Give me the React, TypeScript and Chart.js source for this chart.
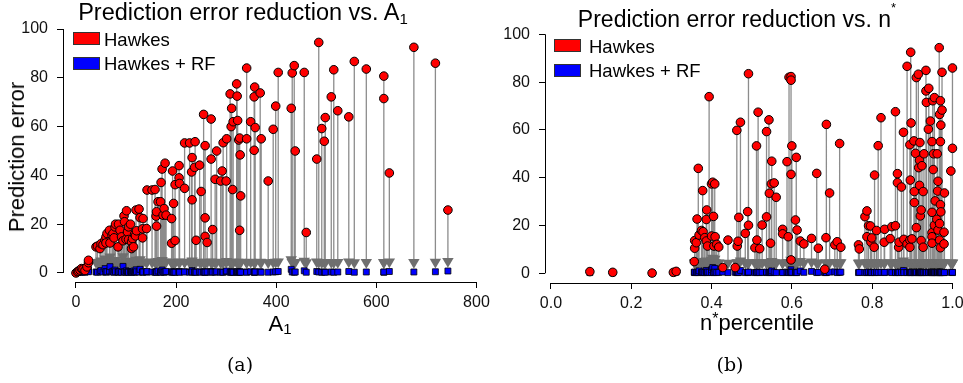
import React, { useEffect, useRef } from "react";
import { Chart, registerables } from "chart.js";

Chart.register(...registerables);

// ---------------- Panel (a): error vs A1 ----------------
const leftA = [
  0, 3, 5, 8, 11, 14, 18, 22, 25, 25,
  40, 43, 48, 50, 54, 58, 60, 60, 62, 67,
  68, 72, 74, 76, 78, 79, 84, 85, 88, 91,
  94, 96, 97, 100, 101, 103, 105, 105, 109, 111,
  111, 113, 115, 117, 119, 120, 121, 126, 128, 133,
  133, 134, 141, 142, 152, 158, 160, 161, 161, 164,
  169, 170, 172, 174, 176, 178, 180, 191, 191, 193,
  195, 198, 198, 206, 206, 207, 217, 217, 227, 231,
  232, 232, 237, 238, 240, 247, 250, 255, 258, 258,
  258, 262, 270, 270, 273, 278, 281, 289, 292, 294,
  300, 301, 308, 310, 311, 313, 314, 321, 322, 323,
  325, 327, 327, 328, 329, 341, 341, 349, 356, 356,
  357, 358, 368, 370, 384, 394, 399, 404, 430, 432,
  436, 438, 456, 460, 481, 485, 491, 496, 498, 510,
  515, 523, 545, 556, 580, 615, 615, 626, 675, 718,
  743,
];
const leftHawkes = [
  0, 0.5, 0.8, 1.2, 1.8, 1.5, 1.0, 2.5, 4.2, 5.2,
  10.7, 11.0, 10.0, 12.0, 11.6, 13.5, 14.8, 12.3, 16.2, 17.5,
  12.3, 15.5, 16.2, 14.4, 18.9, 20.0, 10.7, 20.0, 17.5, 14.8,
  13.2, 23.4, 21.0, 13.8, 25.5, 16.8, 18.9, 13.7, 20.0, 12.7,
  10.0, 14.1, 10.7, 15.8, 15.2, 25.8, 17.3, 26.2, 22.7, 18.1,
  14.4, 22.3, 18.2, 34.0, 34.0, 34.2, 23.3, 25.1, 19.2, 29.2,
  29.2, 37.1, 42.6, 23.7, 26.4, 45.0, 23.7, 22.3, 12.2, 41.8,
  28.5, 36.2, 13.3, 44.0, 39.0, 36.7, 53.3, 34.7, 53.3, 41.4,
  47.3, 30.0, 43.3, 53.8, 13.4, 44.2, 33.4, 65.0, 52.2, 22.6,
  15.0, 12.5, 46.7, 63.1, 17.8, 38.4, 50.0, 37.7, 41.8, 53.4,
  37.7, 55.0, 73.4, 60.0, 67.5, 34.2, 62.0, 77.5, 72.5, 62.5,
  54.5, 55.3, 17.5, 48.4, 31.6, 84.0, 55.0, 62.0, 72.2, 50.3,
  76.2, 59.6, 73.8, 55.0, 37.7, 58.9, 68.4, 82.2, 67.5, 82.0,
  85.0, 50.0, 82.2, 16.6, 46.7, 94.5, 59.2, 54.0, 63.7, 72.2,
  83.3, 66.5, 64.0, 86.7, 83.6, 80.7, 71.5, 41.0, 92.5, 86.0,
  25.8,
];
const leftRF = [
  0.0, 0.2, 0.3, 0.4, 0.3, 0.5, 0.3, 0.6, 1.2, 0.5,
  0.4, 0.3, 0.5, 1.0, 0.4, 1.8, 0.3, 0.6, 0.5, 0.8,
  2.6, 0.4, 0.7, 0.3, 1.2, 0.5, 0.3, 0.4, 0.6, 0.3,
  2.7, 0.5, 0.4, 0.3, 0.9, 0.4, 0.5, 0.3, 0.6, 0.4,
  0.3, 0.5, 0.8, 0.3, 0.4, 1.3, 0.5, 0.4, 1.5, 0.3,
  0.5, 0.4, 0.3, 0.6, 0.4, 0.3, 0.5, 0.4, 0.3, 0.8,
  0.4, 0.3, 1.2, 0.5, 0.3, 0.4, 0.6, 0.3, 0.4, 0.5,
  0.3, 0.4, 0.3, 0.6, 0.4, 0.3, 0.5, 0.4, 0.3, 0.5,
  1.0, 0.4, 0.3, 0.4, 0.3, 0.5, 0.3, 0.4, 0.3, 0.5,
  0.3, 0.4, 0.6, 0.3, 0.4, 0.3, 0.5, 0.3, 0.4, 0.3,
  0.5, 0.8, 0.3, 0.4, 0.3, 0.5, 0.3, 0.4, 0.3, 0.5,
  0.3, 0.4, 0.3, 0.5, 0.3, 0.4, 0.3, 0.5, 0.3, 0.4,
  0.3, 0.4, 0.5, 0.3, 0.3, 0.4, 0.5, 0.6, 1.5, 0.4,
  0.3, 0.4, 0.9, 0.3, 0.6, 0.4, 0.3, 0.4, 0.3, 0.4,
  0.3, 0.4, 0.6, 0.3, 0.4, 0.3, 0.4, 0.6, 0.4, 0.5,
  0.8,
];
const leftXTicks = [0, 200, 400, 600, 800];
const leftXTickLabels = ["0", "200", "400", "600", "800"];

// ---------------- Panel (b): error vs n* percentile ----------------
const rightP = [
  0.097, 0.154, 0.252, 0.305, 0.312, 0.357, 0.358, 0.358, 0.362, 0.364,
  0.367, 0.369, 0.375, 0.378, 0.379, 0.383, 0.387, 0.387, 0.388, 0.390,
  0.394, 0.400, 0.400, 0.403, 0.405, 0.406, 0.408, 0.409, 0.413, 0.418,
  0.428, 0.441, 0.459, 0.463, 0.464, 0.466, 0.468, 0.472, 0.484, 0.490,
  0.492, 0.492, 0.508, 0.512, 0.513, 0.516, 0.520, 0.526, 0.537, 0.537,
  0.543, 0.544, 0.547, 0.549, 0.550, 0.556, 0.561, 0.577, 0.577, 0.588,
  0.591, 0.593, 0.598, 0.598, 0.598, 0.598, 0.600, 0.609, 0.611, 0.613,
  0.621, 0.630, 0.649, 0.662, 0.666, 0.682, 0.685, 0.686, 0.694, 0.707,
  0.713, 0.719, 0.722, 0.766, 0.768, 0.782, 0.787, 0.787, 0.791, 0.796,
  0.797, 0.799, 0.805, 0.806, 0.811, 0.815, 0.822, 0.830, 0.831, 0.845,
  0.849, 0.858, 0.858, 0.863, 0.863, 0.866, 0.867, 0.873, 0.878, 0.879,
  0.887, 0.887, 0.894, 0.894, 0.894, 0.895, 0.896, 0.897, 0.899, 0.904,
  0.905, 0.905, 0.908, 0.910, 0.910, 0.915, 0.916, 0.918, 0.918, 0.919,
  0.920, 0.922, 0.922, 0.924, 0.927, 0.927, 0.929, 0.934, 0.934, 0.935,
  0.940, 0.941, 0.945, 0.949, 0.949, 0.949, 0.949, 0.949, 0.951, 0.952,
  0.953, 0.955, 0.955, 0.957, 0.961, 0.962, 0.963, 0.964, 0.964, 0.967,
  0.968, 0.968, 0.968, 0.970, 0.970, 0.970, 0.970, 0.971, 0.971, 0.974,
  0.974, 0.979, 0.979, 0.980, 0.996, 1.0, 1.0,
];
const rightHawkes = [
  0.7, 0.4, 0.1, 0.4, 0.8, 4.9, 13.7, 10.5, 12.8, 22.7,
  43.9, 16.0, 17.9, 34.6, 17.4, 14.9, 22.5, 13.5, 26.5, 11.4,
  73.9, 37.4, 15.6, 38.1, 23.8, 11.4, 37.4, 15.3, 12.1, 11.0,
  2.4, 13.9, 2.4, 59.8, 11.4, 13.4, 23.4, 63.2, 16.7, 25.8,
  83.5, 20.1, 10.7, 53.3, 13.9, 67.4, 10.3, 20.2, 59.3, 23.6,
  64.2, 33.5, 12.6, 37.4, 46.9, 37.8, 31.8, 18.4, 16.5, 46.7,
  15.3, 82.0, 82.3, 80.8, 41.4, 5.6, 53.3, 22.3, 48.5, 18.1,
  13.5, 12.3, 14.6, 41.8, 10.5, 1.7, 14.9, 62.3, 33.6, 11.9,
  13.2, 54.3, 10.9, 11.9, 10.2, 23.7, 26.1, 15.3, 19.9, 19.8,
  13.0, 14.8, 10.9, 41.1, 17.9, 53.4, 65.1, 13.0, 18.4, 14.5,
  19.5, 67.6, 19.9, 41.7, 37.9, 10.9, 13.0, 36.1, 59.0, 14.2,
  86.6, 12.3, 53.8, 13.9, 10.9, 39.0, 92.5, 62.9, 14.4, 55.4,
  34.2, 29.6, 50.2, 81.9, 19.1, 83.3, 44.2, 47.3, 36.8, 54.7,
  24.0, 26.5, 13.7, 45.0, 34.2, 10.9, 50.0, 84.9, 76.3, 71.5,
  60.3, 77.4, 63.7, 55.1, 25.5, 17.0, 15.3, 12.6, 72.2, 43.4,
  50.0, 73.5, 20.1, 30.3, 22.6, 50.0, 34.4, 38.5, 18.1, 94.4,
  66.5, 20.8, 13.9, 72.2, 55.1, 28.7, 10.7, 62.0, 25.7, 84.1,
  68.3, 17.2, 12.3, 33.6, 42.8, 85.9, 52.3,
];
const rightRF = [
  0.3, 0.2, 0.0, 0.2, 0.5, 0.4, 0.3, 0.5, 0.3, 0.4,
  0.3, 1.0, 0.4, 0.3, 0.5, 0.3, 1.2, 0.4, 0.3, 0.5,
  0.4, 0.3, 1.5, 2.4, 0.4, 0.3, 2.0, 0.5, 0.3, 0.4,
  0.5, 0.3, 0.4, 0.3, 0.5, 0.3, 0.4, 1.2, 0.3, 0.4,
  0.3, 0.5, 0.3, 0.4, 0.3, 0.5, 0.3, 0.4, 0.3, 0.5,
  0.4, 0.3, 0.4, 0.3, 1.0, 0.5, 0.3, 0.4, 0.3, 0.5,
  0.4, 0.3, 1.5, 0.4, 0.3, 0.5, 0.4, 0.3, 0.5, 0.3,
  1.0, 0.4, 0.8, 0.3, 0.4, 0.3, 0.4, 0.3, 0.5, 0.6,
  0.3, 0.4, 0.5, 0.3, 0.4, 0.3, 0.4, 0.3, 0.5, 0.3,
  0.4, 0.3, 0.4, 0.3, 0.5, 0.3, 0.4, 0.3, 0.4, 0.5,
  0.3, 0.4, 0.3, 0.4, 0.3, 0.5, 0.3, 0.4, 1.2, 0.3,
  0.4, 0.3, 0.4, 0.3, 0.5, 0.3, 0.4, 0.3, 0.4, 0.3,
  0.5, 0.3, 0.4, 0.3, 0.4, 0.3, 0.5, 0.3, 0.4, 0.3,
  0.4, 0.3, 0.5, 0.3, 0.4, 0.3, 0.4, 0.3, 0.4, 0.3,
  0.5, 0.3, 0.4, 0.3, 0.4, 0.3, 0.5, 0.3, 0.4, 0.3,
  0.4, 0.3, 0.4, 0.3, 0.5, 0.3, 0.4, 0.3, 0.4, 0.3,
  0.4, 0.3, 0.4, 0.3, 0.4, 0.3, 0.5, 0.3, 0.4, 0.3,
  0.4, 0.3, 0.4, 0.3, 0.4, 0.3, 0.4,
];
const rightXTicks = [0, 0.2, 0.4, 0.6, 0.8, 1.0];
const rightXTickLabels = ["0.0", "0.2", "0.4", "0.6", "0.8", "1.0"];

const yTicks = [0, 20, 40, 60, 80, 100];
const yTickLabels = ["0", "20", "40", "60", "80", "100"];

const seriesNames = ["Hawkes", "Hawkes + RF"];
const seriesColors = ["#ff0000", "#0000ff"];

const FONT = "'Liberation Sans', Arial, Helvetica, sans-serif";

// R-style axis lines spanning only first..last tick
const rAxisLines = {
  id: "rAxisLines",
  afterDraw(chart: any) {
    const { ctx, chartArea } = chart;
    const x = chart.scales.x;
    const y = chart.scales.y;
    ctx.save();
    ctx.strokeStyle = "#000";
    ctx.lineWidth = 1;
    ctx.beginPath();
    const by = Math.round(chartArea.bottom) + 0.5;
    ctx.moveTo(x.getPixelForValue(x.ticks[0].value), by);
    ctx.lineTo(x.getPixelForValue(x.ticks[x.ticks.length - 1].value), by);
    const lx = Math.round(chartArea.left) + 0.5;
    ctx.moveTo(lx, y.getPixelForValue(y.ticks[0].value));
    ctx.lineTo(lx, y.getPixelForValue(y.ticks[y.ticks.length - 1].value));
    ctx.stroke();
    ctx.restore();
  },
};

type PanelOpts = {
  xs: number[];
  hs: number[];
  rs: number[];
  xMin: number;
  xMax: number;
  yMin: number;
  yMax: number;
  xTicks: number[];
  xTickLabels: string[];
  yWidth: number;
  xHeight: number;
  padTop: number;
  padRight: number;
};

function buildConfig(o: PanelOpts): any {
  const stems: any[] = [];
  const heads: any[] = [];
  o.xs.forEach((x, i) => {
    if (o.hs[i] - o.rs[i] > 6) {
      const head = o.rs[i] + 4;
      stems.push({ x, y: o.hs[i] }, { x, y: head }, { x, y: null });
      heads.push({ x, y: head });
    }
  });
  const red = o.xs.map((x, i) => ({ x, y: o.hs[i] }));
  const blue = o.xs.map((x, i) => ({ x, y: o.rs[i] }));

  const tickFont = { family: FONT, size: 16 };
  return {
    type: "scatter",
    data: {
      datasets: [
        {
          label: "stems",
          data: stems,
          showLine: true,
          spanGaps: false,
          borderColor: "rgba(120,120,120,0.85)",
          borderWidth: 1.3,
          pointRadius: 0,
          order: 3,
          clip: false,
        },
        {
          label: "heads",
          data: heads,
          pointStyle: "triangle",
          rotation: 180,
          pointRadius: 6.6,
          backgroundColor: "#6f6f6f",
          borderWidth: 0,
          order: 2,
          clip: false,
        },
        {
          label: seriesNames[1],
          data: blue,
          pointStyle: "rect",
          pointRadius: 4.2,
          backgroundColor: seriesColors[1],
          borderColor: "#000",
          borderWidth: 0.8,
          order: 1,
          clip: false,
        },
        {
          label: seriesNames[0],
          data: red,
          pointStyle: "circle",
          pointRadius: 4.3,
          backgroundColor: seriesColors[0],
          borderColor: "#000",
          borderWidth: 1,
          order: 0,
          clip: false,
        },
      ],
    },
    options: {
      animation: false,
      responsive: false,
      events: [],
      layout: { padding: { left: 0, right: o.padRight, top: o.padTop, bottom: 0 } },
      plugins: { legend: { display: false }, tooltip: { enabled: false }, title: { display: false } },
      scales: {
        x: {
          type: "linear",
          min: o.xMin,
          max: o.xMax,
          afterBuildTicks: (s: any) => {
            s.ticks = o.xTicks.map((v) => ({ value: v }));
          },
          afterFit: (s: any) => {
            s.height = o.xHeight;
            s.paddingLeft = 0;
            s.paddingRight = 0;
          },
          grid: { drawOnChartArea: false, drawTicks: true, tickLength: 6, color: "#000", tickColor: "#000" },
          border: { display: false },
          ticks: {
            font: tickFont,
            color: "#111",
            padding: 5,
            maxRotation: 0,
            autoSkip: false,
            callback: (_v: any, i: number) => o.xTickLabels[i],
          },
        },
        y: {
          type: "linear",
          min: o.yMin,
          max: o.yMax,
          afterBuildTicks: (s: any) => {
            s.ticks = yTicks.map((v) => ({ value: v }));
          },
          afterFit: (s: any) => {
            s.width = o.yWidth;
            s.paddingTop = 0;
            s.paddingBottom = 0;
          },
          grid: { drawOnChartArea: false, drawTicks: true, tickLength: 6, color: "#000", tickColor: "#000" },
          border: { display: false },
          ticks: {
            font: tickFont,
            color: "#111",
            padding: 9,
            autoSkip: false,
            callback: (_v: any, i: number) => yTickLabels[i],
          },
        },
      },
    },
    plugins: [rAxisLines],
  };
}

function Panel(props: { left: number; width: number; height: number; opts: PanelOpts }) {
  const ref = useRef<HTMLCanvasElement | null>(null);
  useEffect(() => {
    if (!ref.current) return;
    const chart = new Chart(ref.current, buildConfig(props.opts));
    return () => chart.destroy();
  }, []);
  return (
    <canvas
      ref={ref}
      width={props.width}
      height={props.height}
      style={{ position: "absolute", left: props.left, top: 0, width: props.width, height: props.height }}
    />
  );
}

const abs = (s: React.CSSProperties): React.CSSProperties => ({
  position: "absolute",
  whiteSpace: "nowrap",
  fontFamily: FONT,
  color: "#000",
  ...s,
});

function Legend({ left, top, textLeft }: { left: number; top: number; textLeft: number }) {
  return (
    <>
      <div style={abs({ left, top, width: 27, height: 13, background: seriesColors[0], border: "1px solid #333", boxSizing: "border-box" })} />
      <div style={abs({ left, top: top + 25, width: 27, height: 13, background: seriesColors[1], border: "1px solid #333", boxSizing: "border-box" })} />
      <div style={abs({ left: textLeft, top: top - 1.4, fontSize: 18.5, lineHeight: "18.5px" })}>{seriesNames[0]}</div>
      <div style={abs({ left: textLeft, top: top + 23.1, fontSize: 18.5, lineHeight: "18.5px" })}>{seriesNames[1]}</div>
    </>
  );
}

export default function App() {
  const leftOpts: PanelOpts = {
    xs: leftA,
    hs: leftHawkes,
    rs: leftRF,
    xMin: -25.9,
    xMax: 813.9,
    yMin: -3.7,
    yMax: 103.7,
    xTicks: leftXTicks,
    xTickLabels: leftXTickLabels,
    yWidth: 63,
    xHeight: 38,
    padTop: 20,
    padRight: 5,
  };
  const rightOpts: PanelOpts = {
    xs: rightP,
    hs: rightHawkes,
    rs: rightRF,
    xMin: -0.0147,
    xMax: 1.0098,
    yMin: -4.06,
    yMax: 103.47,
    xTicks: rightXTicks,
    xTickLabels: rightXTickLabels,
    yWidth: 65,
    xHeight: 37,
    padTop: 26,
    padRight: 0,
  };
  return (
    <div style={{ position: "fixed", left: 0, top: 0, width: 963, height: 383, background: "#fff", overflow: "hidden" }}>
      <Panel left={0} width={490} height={320} opts={leftOpts} />
      <Panel left={480} width={483} height={320} opts={rightOpts} />

      {/* Titles */}
      <div style={abs({ left: 243, top: 1.2, transform: "translateX(-50%)", fontSize: 23.5, lineHeight: "23.5px" })}>
        Prediction error reduction vs. A
        <span style={{ fontSize: 15, position: "relative", top: 4 }}>1</span>
      </div>
      <div style={abs({ left: 737, top: 7.5, transform: "translateX(-50%)", fontSize: 23, lineHeight: "23px" })}>
        Prediction error reduction vs. n
        <span style={{ fontSize: 13, position: "relative", top: -15 }}>*</span>
      </div>

      {/* Axis titles */}
      <div
        style={abs({
          left: 17.4,
          top: 157,
          transform: "translate(-50%, -50%) rotate(-90deg)",
          fontSize: 22,
          lineHeight: "22px",
        })}
      >
        Prediction error
      </div>
      <div style={abs({ left: 280, top: 313.4, transform: "translateX(-50%)", fontSize: 22, lineHeight: "22px" })}>
        A<span style={{ fontSize: 15, position: "relative", top: 3 }}>1</span>
      </div>
      <div style={abs({ left: 757, top: 312.4, transform: "translateX(-50%)", fontSize: 22, lineHeight: "22px" })}>
        n<span style={{ fontSize: 16, position: "relative", top: -6 }}>*</span>percentile
      </div>

      {/* Legends */}
      <Legend left={73} top={32} textLeft={104} />
      <Legend left={554} top={39} textLeft={589} />

      {/* Captions */}
      <div style={abs({ left: 240, top: 355, transform: "translateX(-50%)", fontSize: 19, lineHeight: "19px", fontFamily: "'DejaVu Serif', serif" })}>
        (a)
      </div>
      <div style={abs({ left: 730, top: 355, transform: "translateX(-50%)", fontSize: 19, lineHeight: "19px", fontFamily: "'DejaVu Serif', serif" })}>
        (b)
      </div>
    </div>
  );
}
